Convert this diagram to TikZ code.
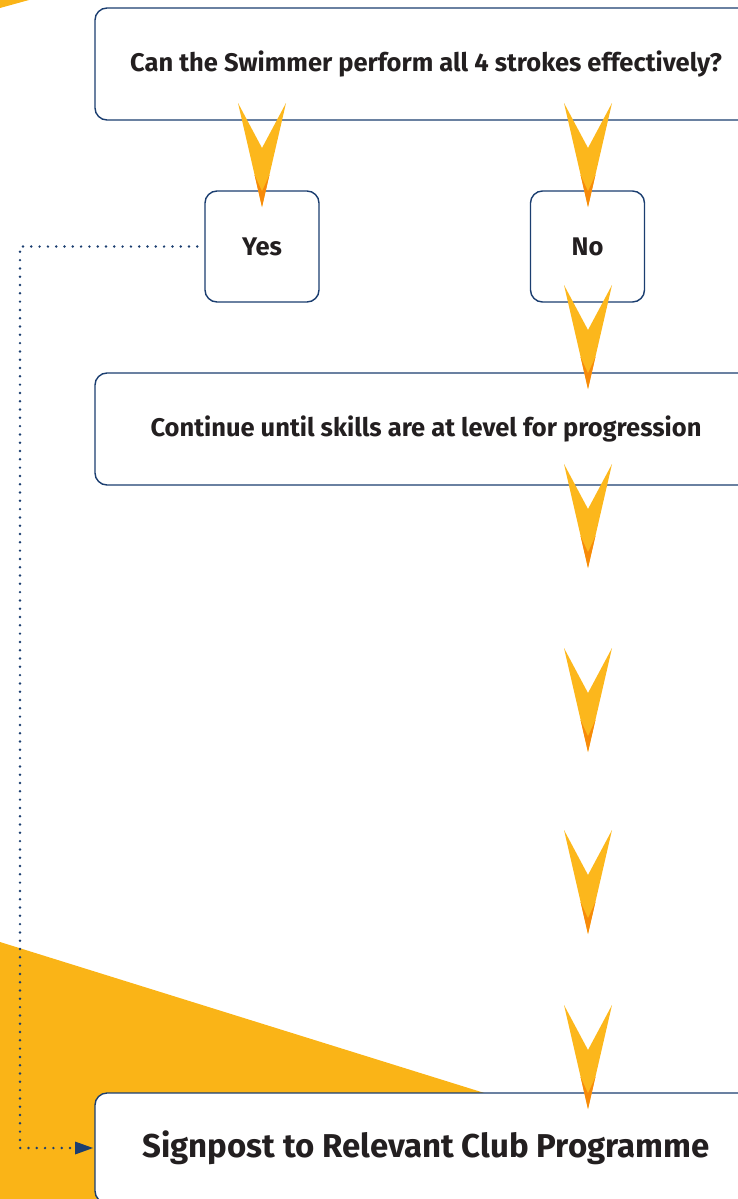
\documentclass[tikz,border=0pt]{standalone}
\usepackage{fontspec}
\setmainfont{Fira Sans}
\usetikzlibrary{arrows.meta}

\definecolor{clubnavy}{HTML}{1B3E70}
\definecolor{clubyellow}{HTML}{FAB417}
\definecolor{clubchev}{HTML}{FCB71C}
\definecolor{cluborange}{HTML}{F78A0A}
\definecolor{clubtext}{HTML}{231F20}

\tikzset{
  qbox/.style={draw=clubnavy, line width=1.4pt, fill=white, rounded corners=12pt,
    text=clubtext, font=\bfseries\fontsize{25.5}{30}\selectfont, inner sep=0pt},
  pathline/.style={draw=clubnavy, line width=2.7pt, line cap=round,
    dash pattern=on 0pt off 8.3pt},
}

\begin{document}
\begin{tikzpicture}[x=1pt,y=-1pt]
\useasboundingbox (0,0) rectangle (738,1199);
\clip (0,0) rectangle (738,1199);

% yellow background wedges
\fill[clubyellow] (0,0) -- (29,0) -- (0,8) -- cycle;
\fill[clubyellow] (0,942) -- (738,1172) -- (738,1199) -- (0,1199) -- cycle;

% question and answers
\node[qbox, minimum width=662pt, minimum height=112pt] (question) at (426,64)
  {Can the Swimmer perform all 4 strokes effectively?};
\node[qbox, minimum width=114pt, minimum height=111pt] (yes) at (262,246.5) {Yes};
\node[qbox, minimum width=114pt, minimum height=111pt] (no) at (587.5,246.5) {No};
\node[qbox, minimum width=662pt, minimum height=112pt] (continue) at (426,429)
  {Continue until skills are at level for progression};
\node[qbox, minimum width=662pt, minimum height=110pt,
  font=\bfseries\fontsize{33}{38}\selectfont] (signpost) at (426,1148)
  {Signpost to Relevant Club Programme};

% dotted route from Yes to the club programme
\draw[pathline, shorten <=7pt] (yes.west) -- (20,246.5) |- (signpost.west);
\fill[clubnavy] (75,1141.5) -- (93,1148) -- (75,1154.5) -- cycle;

% chevrons
\foreach \cx/\cy in {262/103, 588/103, 588/285, 588/464, 588/648, 588/830, 588/1005}{
  \fill[clubchev] (\cx-24,\cy) -- (\cx,\cy+45) -- (\cx+24,\cy) -- (\cx,\cy+104) -- cycle;
  \fill[cluborange] (\cx-7.4,\cy+72) -- (\cx+7.4,\cy+72) -- (\cx,\cy+104) -- cycle;
  \fill[clubchev] (\cx-7.4,\cy+72) -- (\cx+7.4,\cy+72) -- (\cx,\cy+88) -- cycle;
}

\end{tikzpicture}
\end{document}
